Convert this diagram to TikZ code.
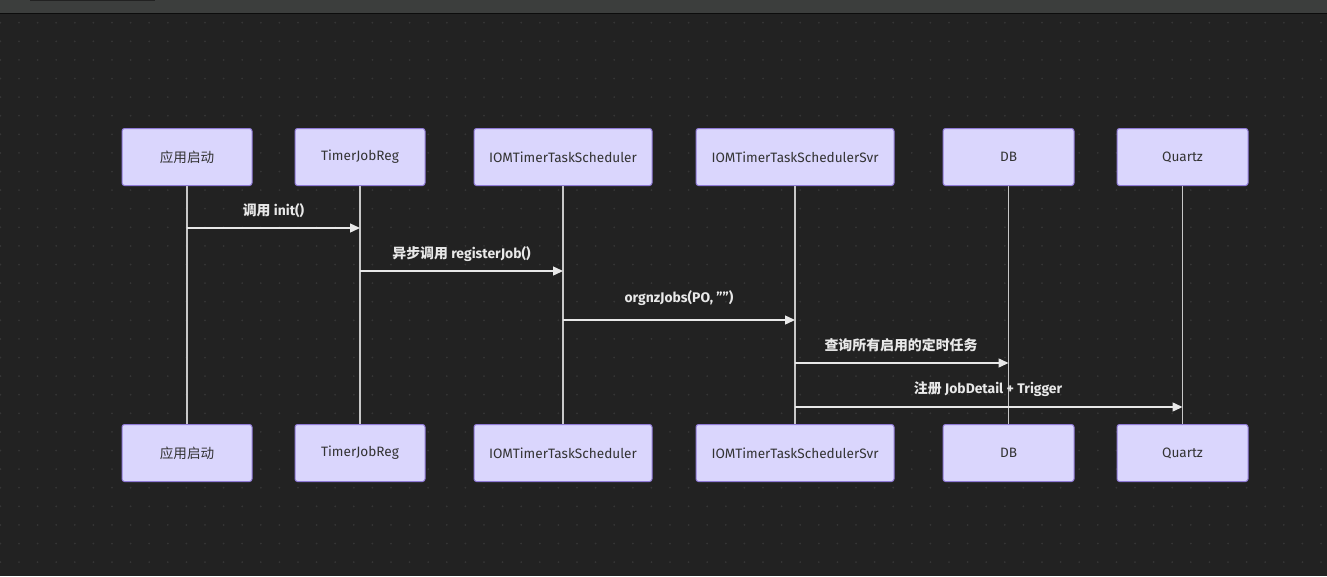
\documentclass[tikz,border=0pt]{standalone}
\usepackage{fontspec}
\setmainfont{Fira Sans}
\newfontfamily\cjk{Noto Sans CJK SC}
\usetikzlibrary{arrows.meta}
\definecolor{bg}{HTML}{222222}
\definecolor{bar}{HTML}{3C3E3D}
\definecolor{dotc}{HTML}{363636}
\definecolor{boxfill}{HTML}{DAD6FD}
\definecolor{boxdraw}{HTML}{8F7AD6}
\definecolor{boxtext}{HTML}{333333}
\definecolor{lifec}{HTML}{C8C8C8}
\definecolor{msgc}{HTML}{E8E8E8}
\tikzset{
  actor/.style={draw=boxdraw, fill=boxfill, line width=1pt, rounded corners=2.5pt,
    minimum width=130pt, minimum height=57pt, inner sep=0pt,
    font=\fontsize{13.6}{15}\selectfont, text=boxtext},
  lifeline/.style={draw=lifec, line width=1.4pt},
  msg/.style={draw=msgc, line width=1.4pt, -{Triangle[length=10pt,width=9pt]}},
  msglabel/.style={font=\fontsize{13.9}{15}\selectfont\bfseries, text=msgc, inner sep=0pt}
}
\begin{document}
\begin{tikzpicture}[x=1pt,y=-1pt]
\useasboundingbox (0,0) rectangle (1327,576);
\fill[bg] (0,0) rectangle (1327,576);
\foreach \i in {0,...,71}{
  \foreach \j in {0,...,29}{
    \fill[dotc] (0.4+18.6*\i,22.7+18.6*\j) circle (1pt);
  }
}
\fill[bar] (0,0) rectangle (1327,13);
\fill[black!80!bar] (0,13) rectangle (1327,14.2);
\fill[bg] (30,0) rectangle (155,1.3);
% top actors
\node[actor] (a1) at (187,157) {\cjk 应用启动};
\node[actor] (a2) at (360,157) {TimerJobReg};
\node[actor, minimum width=178pt] (a3) at (563,157) {IOMTimerTaskScheduler};
\node[actor, minimum width=198pt] (a4) at (795,157) {IOMTimerTaskSchedulerSvr};
\node[actor, minimum width=131pt] (a5) at (1008.5,157) {DB};
\node[actor, minimum width=131pt] (a6) at (1182.5,157) {Quartz};
% bottom actors
\node[actor] (b1) at (187,453) {\cjk 应用启动};
\node[actor] (b2) at (360,453) {TimerJobReg};
\node[actor, minimum width=178pt] (b3) at (563,453) {IOMTimerTaskScheduler};
\node[actor, minimum width=198pt] (b4) at (795,453) {IOMTimerTaskSchedulerSvr};
\node[actor, minimum width=131pt] (b5) at (1008.5,453) {DB};
\node[actor, minimum width=131pt] (b6) at (1182.5,453) {Quartz};
% lifelines
\foreach \k in {1,...,6}{
  \draw[lifeline] (a\k.south) -- (b\k.north);
}
% message anchor points
\coordinate (m1s) at (a1.south |- 0,228);
\coordinate (m1e) at (a2.south |- 0,228);
\coordinate (m2s) at (a2.south |- 0,271);
\coordinate (m2e) at (a3.south |- 0,271);
\coordinate (m3s) at (a3.south |- 0,320);
\coordinate (m3e) at (a4.south |- 0,320);
\coordinate (m4s) at (a4.south |- 0,363);
\coordinate (m4e) at (a5.south |- 0,363);
\coordinate (m5s) at (a4.south |- 0,407);
\coordinate (m5e) at (a6.south |- 0,407);
\draw[msg] (m1s) -- (m1e);
\draw[msg] (m2s) -- (m2e);
\draw[msg] (m3s) -- (m3e);
\draw[msg] (m4s) -- (m4e);
\draw[msg] (m5s) -- (m5e);
\node[msglabel] (l1) at (273.5,211) {{\cjk 调用} init()};
\node[msglabel] (l2) at (461.5,254) {{\cjk 异步调用} registerJob()};
\node[msglabel] (l3) at (679,298) {orgnzJobs(PO, "")};
\node[msglabel] (l4) at (901,345) {\cjk 查询所有启用的定时任务};
\node[msglabel] (l5) at (988,389) {{\cjk 注册} JobDetail + Trigger};
\end{tikzpicture}
\end{document}
